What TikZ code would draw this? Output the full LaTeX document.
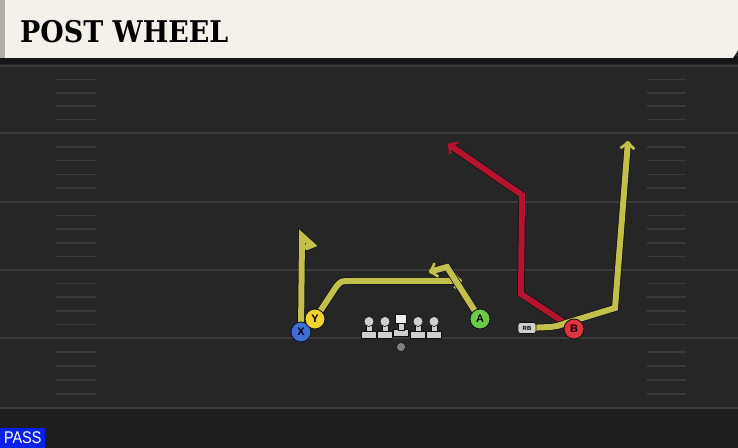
\documentclass[tikz,border=0pt]{standalone}
\usepackage{graphicx}
\usepackage{fontspec}
\setmainfont{DejaVu Serif}
\setsansfont{Liberation Sans}
\usetikzlibrary{arrows.meta, shapes}

\definecolor{cream}{HTML}{F4F1EA}
\definecolor{stripe}{HTML}{AEB0A8}
\definecolor{turf}{HTML}{262626}
\definecolor{endzone}{HTML}{1E1E1E}
\definecolor{band}{HTML}{151515}
\definecolor{yardgray}{HTML}{3C3C3C}
\definecolor{hashgray}{HTML}{3A3A3A}
\definecolor{olive}{HTML}{C2C04A}
\definecolor{crimson}{HTML}{B5142E}
\definecolor{outline}{HTML}{101014}
\definecolor{xblue}{HTML}{3F6FD6}
\definecolor{yyellow}{HTML}{F2D22E}
\definecolor{agreen}{HTML}{6BCB45}
\definecolor{bred}{HTML}{E0333F}
\definecolor{passblue}{HTML}{0A22E8}
\definecolor{linegray}{HTML}{CFCFCF}

\pgfdeclarelayer{field}
\pgfdeclarelayer{routes}
\pgfsetlayers{field,routes,main}

\begin{document}
\begin{tikzpicture}[x=1bp, y=-1bp, line join=round,
  player/.style={circle, draw=outline, line width=0.8bp, minimum size=20bp,
    inner sep=0pt, font=\sffamily\bfseries\fontsize{11}{11}\selectfont},
  rbtag/.style={rounded corners=2.5bp, fill=linegray, draw=outline, line width=0.7bp,
    minimum width=18bp, minimum height=11bp, inner sep=0pt,
    font=\sffamily\bfseries\fontsize{6}{6}\selectfont},
  route/.style={line width=6bp, line cap=round,
    preaction={draw=outline, line width=7.5bp}},
  tip/.style={-{Straight Barb[length=6bp, width=14bp, line width=0bp 0.45]}},
  yardline/.style={draw=yardgray, line width=2bp},
  hash/.style={draw=hashgray, line width=1.5bp},
  blocker/.style={fill=linegray, draw=outline, line width=0.6bp}]
\useasboundingbox (0,0) rectangle (738,448);

\begin{pgfonlayer}{field}
\fill[turf] (0,0) rectangle (738,448);
\fill[endzone] (0,408) rectangle (738,448);
\fill[band] (0,56) rectangle (738,64);
\foreach \y in {66,133,202,270,338,408}
  \draw[yardline] (0,\y) -- (738,\y);
\foreach \a/\b in {66/133,133/202,202/270,270/338,338/408}
  \foreach \k in {1,...,4} {
    \draw[hash] (56,{\a+(\b-\a)*\k/5}) -- (96,{\a+(\b-\a)*\k/5});
    \draw[hash] (647,{\a+(\b-\a)*\k/5}) -- (686,{\a+(\b-\a)*\k/5});
  }
\fill[cream] (0,0) -- (738,0) -- (738,50) -- (733,58) -- (0,58) -- cycle;
\fill[stripe] (0,0) rectangle (5,58);
\end{pgfonlayer}

\node[anchor=base west, inner sep=0pt, font=\rmfamily\bfseries\fontsize{30}{30}\selectfont]
  (title) at (20,43) {\scalebox{0.9}[1]{POST WHEEL}};
\node[anchor=south west, fill=passblue, text=white, minimum width=45bp,
  minimum height=20bp, inner sep=0pt, font=\sffamily\fontsize{17}{17}\selectfont]
  (pass) at (0,448) {\scalebox{0.85}[1]{PASS}};

% line
\foreach \x in {369,385,418,434} {
  \filldraw[blocker] (\x-7.5,331) rectangle (\x+7.5,338.5);
  \filldraw[blocker] (\x-3,322) rectangle (\x+3,331.5);
  \filldraw[blocker] (\x,321.5) circle (5);
}
\filldraw[blocker] (393.5,329.5) rectangle (408.5,336.5);
\filldraw[blocker] (398,322) rectangle (404,330);
\filldraw[white!93!black, draw=outline, line width=0.6bp] (395.5,314) rectangle (406.5,323.5);
\node[circle, fill=gray, draw=outline, line width=0.5bp, minimum size=9bp, inner sep=0pt]
  (ball) at (401,347) {};

\node[player, fill=xblue] (X) at (301,332) {X};
\node[player, fill=yyellow] (Y) at (315,319) {Y};
\node[player, fill=agreen] (A) at (480,319) {A};
\node[player, fill=bred] (B) at (574,329) {B};
\node[rbtag] (RB) at (527,328) {RB};

\begin{pgfonlayer}{routes}
\draw[route, crimson, tip] (B.center) -- (521,294) -- (522,195) -- (448,144);
\draw[route, olive, tip] (RB.center) -- (550,327) .. controls (558,326) .. (566,323)
  -- (615,308) -- (628,141);
\draw[route, olive] (X.center) -- (302,236) -- (312,245) -- (307,247);
\draw[route, olive, tip] (Y.center) -- (336,287) .. controls (341,281) .. (350,281) -- (462,281);
\draw[route, olive, tip] (A.center) -- (447,267) -- (429,272);
\end{pgfonlayer}
\end{tikzpicture}
\end{document}
